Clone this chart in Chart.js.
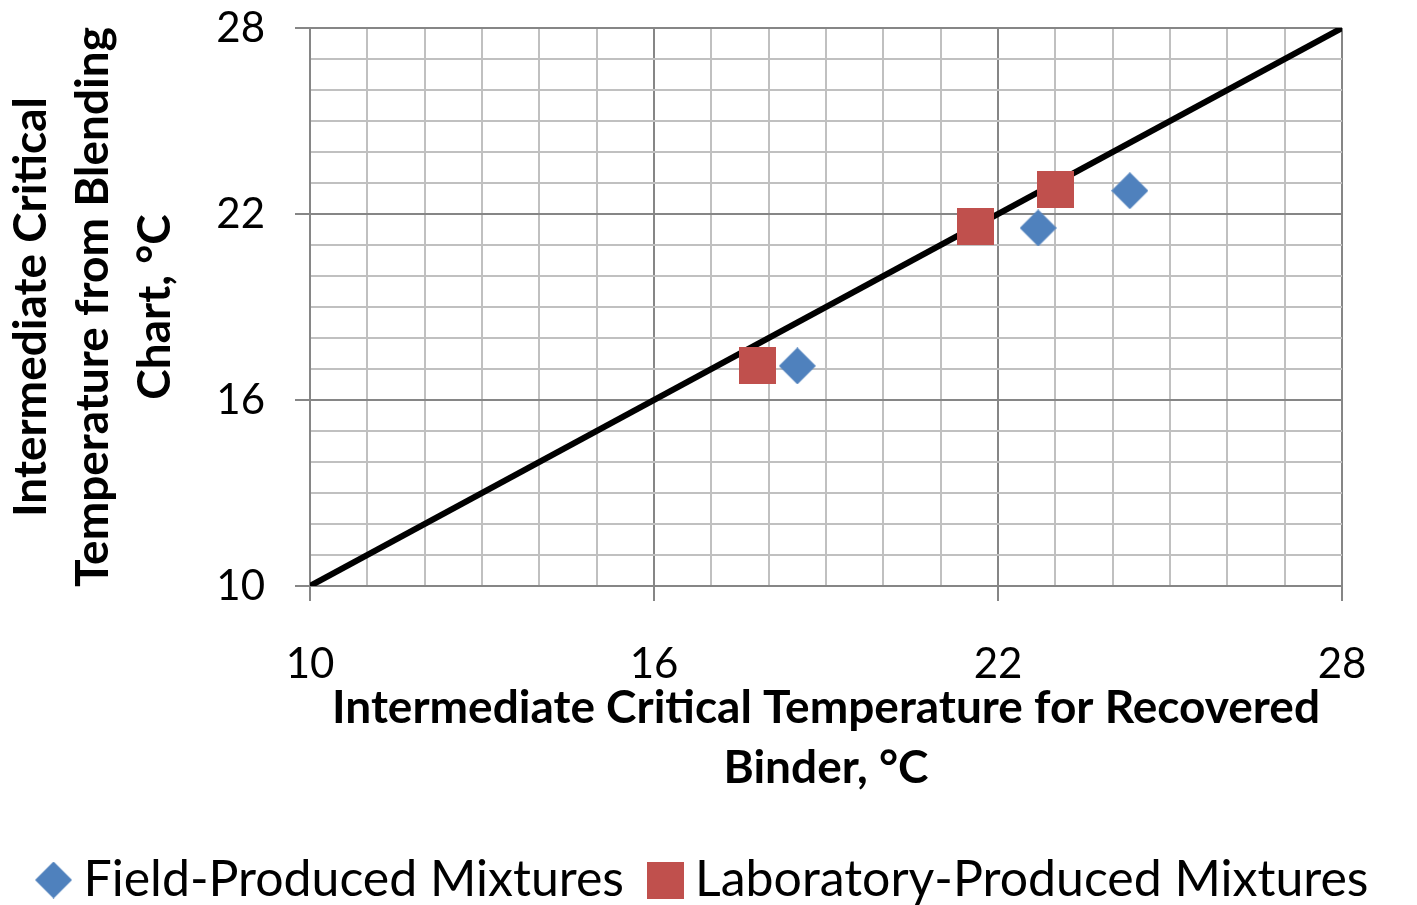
<!DOCTYPE html>
<html>
<head>
<meta charset="utf-8">
<script src="https://cdn.jsdelivr.net/npm/chart.js@4/dist/chart.umd.min.js"></script>
<style>
  html, body { margin: 0; padding: 0; background: #fff; }
  #wrap { width: 1417px; height: 905px; }
</style>
</head>
<body>
<div id="wrap"><canvas id="chart" width="1417" height="905"></canvas></div>
<script>
// data
const fieldX = [18.5, 22.7, 24.3];
const fieldY = [17.1, 21.55, 22.75];
const labX = [17.8, 21.6, 23.0];
const labY = [17.1, 21.6, 22.8];
const lineX = [10, 28];
const lineY = [10, 28];
const axisMin = 10, axisMax = 28, majorStep = 6;

const FONT = "Lato, 'Liberation Sans', sans-serif";
const BLUE = '#4F81BD';
const RED = '#C0504D';
const MAJOR = '#868686';
const MINOR = '#c0c0c0';

const toPoints = (xs, ys) => xs.map((x, i) => ({ x, y: ys[i] }));
const isMajor = v => Math.abs(((v - axisMin) % majorStep)) < 1e-6;

// marker images (used in plot and in legend)
function marker(kind, color, size) {
  const c = document.createElement('canvas');
  c.width = size; c.height = size;
  const g = c.getContext('2d');
  g.fillStyle = color;
  if (kind === 'diamond') {
    g.beginPath();
    g.moveTo(size / 2, 0);
    g.lineTo(size, size / 2);
    g.lineTo(size / 2, size);
    g.lineTo(0, size / 2);
    g.closePath();
    g.fill();
  } else {
    g.fillRect(0, 0, size, size);
  }
  return c;
}
const diamondImg = marker('diamond', BLUE, 37);
const squareImg = marker('square', RED, 37);

const gridOpts = {
  color: ctx => isMajor(ctx.tick.value) ? MAJOR : MINOR,
  tickColor: ctx => isMajor(ctx.tick.value) ? MAJOR : 'rgba(0,0,0,0)',
  lineWidth: 2,
  tickLength: 15
};

new Chart(document.getElementById('chart'), {
  type: 'scatter',
  data: {
    datasets: [
      {
        label: 'Field-Produced Mixtures',
        data: toPoints(fieldX, fieldY),
        pointStyle: diamondImg,
        backgroundColor: BLUE,
        borderColor: BLUE
      },
      {
        label: 'Laboratory-Produced Mixtures',
        data: toPoints(labX, labY),
        pointStyle: squareImg,
        backgroundColor: RED,
        borderColor: RED
      },
      {
        type: 'line',
        label: 'line',
        data: toPoints(lineX, lineY),
        borderColor: '#000',
        borderWidth: 6,
        pointRadius: 0,
        fill: false,
        order: 5
      }
    ]
  },
  options: {
    responsive: false,
    animation: false,
    layout: { padding: { left: 0, right: 0, top: 28, bottom: -10 } },
    plugins: {
      tooltip: { enabled: false },
      legend: {
        position: 'bottom',
        labels: {
          usePointStyle: true,
          boxWidth: 10,
          boxHeight: 10,
          padding: 36,
          color: '#000',
          font: { family: FONT, size: 50 },
          filter: item => item.text !== 'line'
        }
      }
    },
    scales: {
      x: {
        type: 'linear',
        min: axisMin,
        max: axisMax,
        afterFit: s => { s.height = 233; },
        ticks: {
          stepSize: 1,
          autoSkip: false,
          maxRotation: 0,
          padding: 38,
          color: '#000',
          font: { family: FONT, size: 42 },
          callback: v => isMajor(v) ? v : ''
        },
        grid: gridOpts,
        border: { display: true, color: MAJOR, width: 2 },
        title: {
          display: true,
          text: ['Intermediate Critical Temperature for Recovered', 'Binder, \u00b0C'],
          color: '#000',
          font: { family: FONT, size: 46, weight: 'bold', lineHeight: 1.3 },
          padding: { top: 0, bottom: 21 }
        }
      },
      y: {
        type: 'linear',
        min: axisMin,
        max: axisMax,
        afterFit: s => { s.width = 310; s.paddingTop = 0; s.paddingBottom = 0; },
        ticks: {
          stepSize: 1,
          autoSkip: false,
          padding: 30,
          color: '#000',
          font: { family: FONT, size: 42 },
          callback: v => isMajor(v) ? v : ''
        },
        grid: gridOpts,
        border: { display: true, color: MAJOR, width: 2 },
        title: {
          display: true,
          text: ['Intermediate Critical', 'Temperature from Blending', 'Chart, \u00b0C'],
          color: '#000',
          font: { family: FONT, size: 46, weight: 'bold', lineHeight: 1.35 },
          padding: { top: 0, bottom: 0 }
        }
      },
      // empty right-hand axis, only reserves the margin right of the plot
      yRight: {
        type: 'linear',
        position: 'right',
        min: axisMin,
        max: axisMax,
        afterFit: s => { s.width = 75; },
        ticks: { display: false },
        grid: { display: false },
        border: { display: false }
      }
    }
  }
});
</script>
</body>
</html>
